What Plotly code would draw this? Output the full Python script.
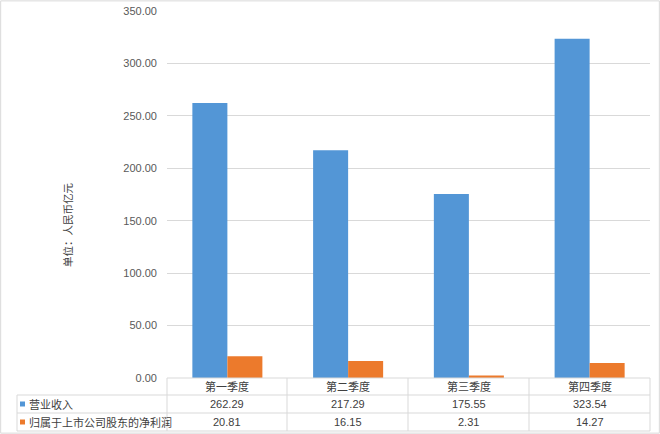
import plotly.graph_objects as go

quarters = ["第一季度", "第二季度", "第三季度", "第四季度"]
revenue = [262.29, 217.29, 175.55, 323.54]
net_profit = [20.81, 16.15, 2.31, 14.27]
series_names = ["营业收入", "归属于上市公司股东的净利润"]
series_colors = ["#5396D6", "#EC7A2C"]
y_ticks = [0, 50, 100, 150, 200, 250, 300, 350]

W, H = 660, 434
FONT = "Liberation Sans, Arial, Noto Sans CJK SC, sans-serif"
GRID = "#d9d9d9"


def px(x):
    return x / W


def py(y):
    return 1 - y / H


# table geometry (pixels)
col_edges = [167, 287, 408, 529, 650]
row_edges = [378, 395, 413, 431]
label_left = 17

fig = go.Figure()
for name, vals, color in zip(series_names, [revenue, net_profit], series_colors):
    fig.add_trace(go.Bar(x=quarters, y=vals, name=name,
                         marker=dict(color=color, line=dict(width=0))))

shapes = []
# outer frame
shapes.append(dict(type="rect", xref="paper", yref="paper", x0=0.001, x1=0.999,
                   y0=0.002, y1=0.998, line=dict(color=GRID, width=1)))
# table lines
for xe in col_edges:
    shapes.append(dict(type="line", xref="paper", yref="paper", x0=px(xe), x1=px(xe),
                       y0=py(row_edges[0]), y1=py(row_edges[-1]),
                       line=dict(color=GRID, width=1)))
shapes.append(dict(type="line", xref="paper", yref="paper", x0=px(label_left), x1=px(label_left),
                   y0=py(row_edges[1]), y1=py(row_edges[-1]), line=dict(color=GRID, width=1)))
shapes.append(dict(type="line", xref="paper", yref="paper", x0=px(col_edges[0]), x1=px(col_edges[-1]),
                   y0=py(row_edges[0]), y1=py(row_edges[0]), line=dict(color=GRID, width=1)))
for ye in row_edges[1:]:
    shapes.append(dict(type="line", xref="paper", yref="paper", x0=px(label_left), x1=px(col_edges[-1]),
                       y0=py(ye), y1=py(ye), line=dict(color=GRID, width=1)))

annotations = []
rows = [quarters, [f"{v:.2f}" for v in revenue], [f"{v:.2f}" for v in net_profit]]
for r, row in enumerate(rows):
    yc = (row_edges[r] + row_edges[r + 1]) / 2
    for c, txt in enumerate(row):
        xc = (col_edges[c] + col_edges[c + 1]) / 2
        annotations.append(dict(text=txt, x=px(xc), y=py(yc), xref="paper", yref="paper",
                                showarrow=False, xanchor="center", yanchor="middle",
                                font=dict(family=FONT, size=11, color="#404040")))
# legend keys in the table
for i, (name, color) in enumerate(zip(series_names, series_colors)):
    yc = (row_edges[i + 1] + row_edges[i + 2]) / 2
    shapes.append(dict(type="rect", xref="paper", yref="paper",
                       x0=px(20), x1=px(25), y0=py(yc + 2.5), y1=py(yc - 2.5),
                       fillcolor=color, line=dict(width=0)))
    annotations.append(dict(text=name, x=px(27), y=py(yc), xref="paper", yref="paper",
                            showarrow=False, xanchor="left", yanchor="middle",
                            font=dict(family=FONT, size=11, color="#404040")))
# axis title
annotations.append(dict(text="单位：人民币亿元", x=px(68), y=py(225), xref="paper", yref="paper",
                        showarrow=False, textangle=-90, xanchor="center", yanchor="middle",
                        font=dict(family=FONT, size=10.5, color="#404040")))

fig.update_layout(
    width=W, height=H,
    margin=dict(l=0, r=0, t=0, b=0, autoexpand=False),
    paper_bgcolor="white", plot_bgcolor="white",
    barmode="group", bargap=0.42, bargroupgap=0,
    showlegend=False,
    shapes=shapes, annotations=annotations,
    xaxis=dict(domain=[px(col_edges[0]), px(col_edges[-1])], range=[-0.5, 3.5],
               showticklabels=False, showgrid=False, zeroline=False, showline=False,
               automargin=False),
    yaxis=dict(domain=[py(row_edges[0]), py(11)], range=[0, 350], tickvals=y_ticks,
               tickformat=".2f", showgrid=True, gridcolor=GRID, gridwidth=1,
               zeroline=False, showline=False, ticks="", ticklabelstandoff=9,
               automargin=False,
               tickfont=dict(family=FONT, size=11, color="#595959")),
)

# drop the default page margin so the 660x434 figure fills the window exactly
fig.write_html("out.html", config={"displayModeBar": False},
               post_script="document.body.style.margin='0';document.body.style.overflow='hidden';")
